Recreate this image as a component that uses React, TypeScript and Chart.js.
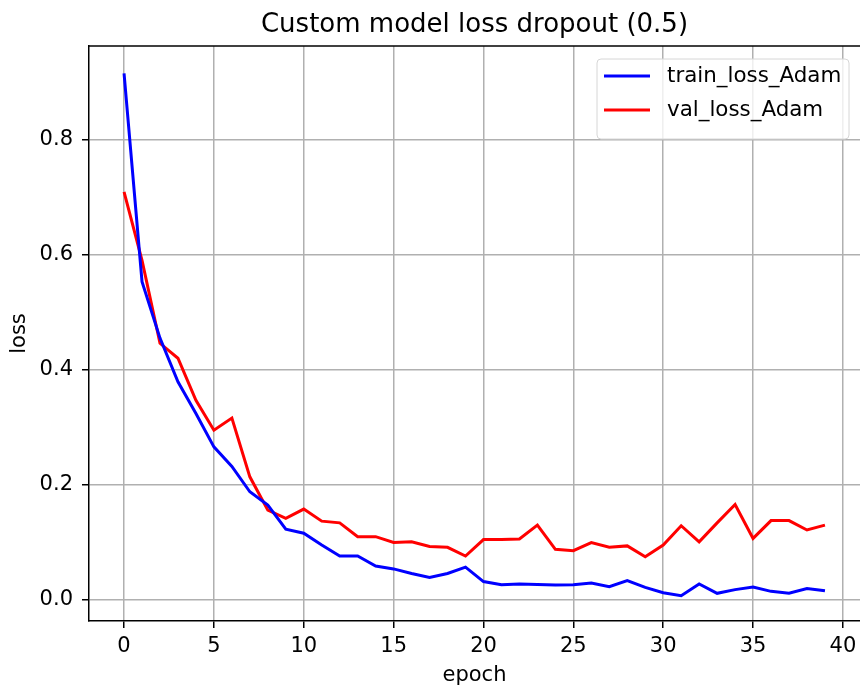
import React, { useEffect, useRef } from "react";
import { Chart, registerables } from "chart.js";

Chart.register(...registerables);

const epochs = [0,1,2,3,4,5,6,7,8,9,10,11,12,13,14,15,16,17,18,19,20,21,22,23,24,25,26,27,28,29,30,31,32,33,34,35,36,37,38,39];
const trainLoss = [0.915,0.553,0.455,0.379,0.324,0.266,0.232,0.188,0.165,0.123,0.116,0.0955,0.0764,0.0764,0.059,0.054,0.046,0.039,0.046,0.057,0.032,0.0266,0.0278,0.027,0.026,0.0266,0.0295,0.023,0.0336,0.022,0.0127,0.0075,0.0278,0.0116,0.018,0.0226,0.015,0.0116,0.020,0.016];
const valLoss = [0.709,0.59,0.446,0.420,0.347,0.295,0.316,0.214,0.156,0.142,0.158,0.137,0.134,0.110,0.110,0.100,0.101,0.093,0.0915,0.0764,0.105,0.105,0.106,0.130,0.088,0.0857,0.0996,0.0915,0.094,0.075,0.0955,0.129,0.101,0.134,0.166,0.107,0.138,0.138,0.1216,0.130];
const seriesLabels = ["train_loss_Adam", "val_loss_Adam"];
const seriesColors = ["#0000ff", "#ff0000"];
const xTicks = [0, 5, 10, 15, 20, 25, 30, 35, 40];
const yTicks = [0.0, 0.2, 0.4, 0.6, 0.8];
const titleText = "Custom model loss dropout (0.5)";
const xLabel = "epoch";
const yLabel = "loss";

const FONT = "'DejaVu Sans', sans-serif";

export default function App() {
  const ref = useRef<HTMLCanvasElement | null>(null);

  useEffect(() => {
    document.body.style.margin = "0";
    const canvas = ref.current;
    if (!canvas) return;

    const decor = {
      id: "decor",
      afterDatasetsDraw(chart: any) {
        const { ctx, chartArea } = chart;
        const { left, right, top, bottom } = chartArea;
        ctx.save();
        // top spine
        ctx.strokeStyle = "#000";
        ctx.lineWidth = 1.5;
        ctx.beginPath();
        ctx.moveTo(left, top);
        ctx.lineTo(right + 2, top);
        ctx.stroke();

        // legend
        const lx = 597, ly = 59, lw = 252, lh = 80, r = 4;
        ctx.globalAlpha = 0.8;
        ctx.fillStyle = "#fff";
        ctx.beginPath();
        ctx.moveTo(lx + r, ly);
        ctx.lineTo(lx + lw - r, ly);
        ctx.quadraticCurveTo(lx + lw, ly, lx + lw, ly + r);
        ctx.lineTo(lx + lw, ly + lh - r);
        ctx.quadraticCurveTo(lx + lw, ly + lh, lx + lw - r, ly + lh);
        ctx.lineTo(lx + r, ly + lh);
        ctx.quadraticCurveTo(lx, ly + lh, lx, ly + lh - r);
        ctx.lineTo(lx, ly + r);
        ctx.quadraticCurveTo(lx, ly, lx + r, ly);
        ctx.closePath();
        ctx.fill();
        ctx.globalAlpha = 1;
        ctx.strokeStyle = "#d6d6d6";
        ctx.lineWidth = 1;
        ctx.stroke();

        chart.data.datasets.forEach((ds: any, i: number) => {
          const y = 76 + i * 34;
          ctx.strokeStyle = ds.borderColor;
          ctx.lineWidth = 3;
          ctx.beginPath();
          ctx.moveTo(604, y);
          ctx.lineTo(650, y);
          ctx.stroke();
          ctx.fillStyle = "#000";
          ctx.font = `21.4px ${FONT}`;
          ctx.textAlign = "left";
          ctx.textBaseline = "middle";
          ctx.fillText(ds.label, 667, y);
        });

        // title
        ctx.fillStyle = "#000";
        ctx.font = `26px ${FONT}`;
        ctx.textAlign = "center";
        ctx.textBaseline = "middle";
        ctx.fillText(titleText, (left + right) / 2, 25);

        // x label
        ctx.font = `21px ${FONT}`;
        ctx.fillText(xLabel, (left + right) / 2, 676);

        // y label
        ctx.translate(20, (top + bottom) / 2);
        ctx.rotate(-Math.PI / 2);
        ctx.fillText(yLabel, 0, 0);
        ctx.restore();
      },
    };

    const chart = new Chart(canvas, {
      type: "line",
      data: {
        datasets: [
          {
            label: seriesLabels[0],
            data: epochs.map((e, i) => ({ x: e, y: trainLoss[i] })),
            borderColor: seriesColors[0],
            backgroundColor: seriesColors[0],
            borderWidth: 3,
            pointRadius: 0,
            tension: 0,
          },
          {
            label: seriesLabels[1],
            data: epochs.map((e, i) => ({ x: e, y: valLoss[i] })),
            borderColor: seriesColors[1],
            backgroundColor: seriesColors[1],
            borderWidth: 3,
            pointRadius: 0,
            tension: 0,
          },
        ],
      },
      options: {
        responsive: false,
        animation: false,
        layout: { autoPadding: false, padding: { top: 46, right: 0, left: 0, bottom: 0 } },
        plugins: {
          legend: { display: false },
          title: { display: false },
          tooltip: { enabled: false },
        },
        scales: {
          x: {
            type: "linear",
            min: -1.95,
            max: 40.95,
            afterFit: (s: any) => {
              s.height = 68;
              s.paddingLeft = 0;
              s.paddingRight = 0;
            },
            afterBuildTicks: (s: any) => {
              s.ticks = xTicks.map((v) => ({ value: v }));
            },
            ticks: {
              includeBounds: false,
              stepSize: 5,
              color: "#000",
              font: { family: FONT, size: 21 },
              padding: 6,
              maxRotation: 0,
              callback: (v: any) => String(v),
            },
            grid: {
              color: "#b0b0b0",
              lineWidth: 1.5,
              drawTicks: true,
              tickLength: 7,
              tickColor: "#000",
              tickWidth: 1.5,
            },
            border: { display: true, color: "#000", width: 1.5 },
          },
          y: {
            type: "linear",
            min: -0.0365,
            max: 0.9625,
            afterFit: (s: any) => {
              s.width = 89;
              s.paddingTop = 0;
              s.paddingBottom = 0;
            },
            afterBuildTicks: (s: any) => {
              s.ticks = yTicks.map((v) => ({ value: v }));
            },
            ticks: {
              includeBounds: false,
              stepSize: 0.2,
              color: "#000",
              font: { family: FONT, size: 21 },
              padding: 9,
              callback: (v: any) => Number(v).toFixed(1),
            },
            grid: {
              color: "#b0b0b0",
              lineWidth: 1.5,
              drawTicks: true,
              tickLength: 7,
              tickColor: "#000",
              tickWidth: 1.5,
            },
            border: { display: true, color: "#000", width: 1.5 },
          },
        },
      },
      plugins: [decor],
    });

    return () => chart.destroy();
  }, []);

  return <canvas ref={ref} width={860} height={689} style={{ display: "block" }} />;
}
